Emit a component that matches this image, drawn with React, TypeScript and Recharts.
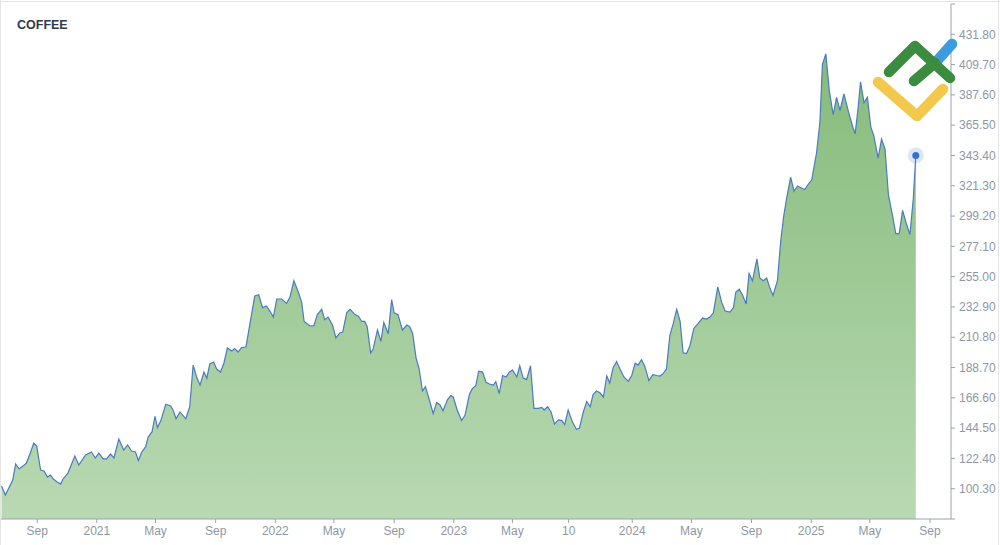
import { AreaChart, Area, XAxis, YAxis, ReferenceDot } from "recharts";

// weekly coffee closes
const dates = [
  "2020-06-20", "2020-06-28", "2020-07-13", "2020-07-19", "2020-07-26", "2020-08-03", "2020-08-10", "2020-08-18", "2020-08-25", "2020-08-31",
  "2020-09-08", "2020-09-15", "2020-09-22", "2020-09-28", "2020-10-04", "2020-10-12", "2020-10-19", "2020-10-24", "2020-11-03", "2020-11-17",
  "2020-11-25", "2020-12-09", "2020-12-21", "2020-12-29", "2021-01-05", "2021-01-14", "2021-01-21", "2021-01-29", "2021-02-05", "2021-02-15",
  "2021-02-25", "2021-03-05", "2021-03-13", "2021-03-21", "2021-03-27", "2021-04-03", "2021-04-11", "2021-04-16", "2021-04-24", "2021-04-30",
  "2021-05-05", "2021-05-12", "2021-05-22", "2021-06-01", "2021-06-06", "2021-06-12", "2021-06-20", "2021-07-02", "2021-07-10", "2021-07-17",
  "2021-07-24", "2021-07-31", "2021-08-08", "2021-08-14", "2021-08-20", "2021-08-28", "2021-09-03", "2021-09-11", "2021-09-18", "2021-09-25",
  "2021-10-04", "2021-10-10", "2021-10-17", "2021-10-24", "2021-11-02", "2021-11-20", "2021-11-28", "2021-12-06", "2021-12-14", "2021-12-21",
  "2021-12-28", "2022-01-04", "2022-01-14", "2022-01-24", "2022-01-31", "2022-02-08", "2022-02-17", "2022-02-24", "2022-03-01", "2022-03-13",
  "2022-03-21", "2022-03-28", "2022-04-06", "2022-04-12", "2022-04-19", "2022-04-28", "2022-05-05", "2022-05-13", "2022-05-19", "2022-05-27",
  "2022-06-03", "2022-06-13", "2022-06-20", "2022-06-27", "2022-07-03", "2022-07-08", "2022-07-15", "2022-07-20", "2022-07-29", "2022-08-05",
  "2022-08-11", "2022-08-20", "2022-08-27", "2022-09-01", "2022-09-09", "2022-09-18", "2022-09-27", "2022-10-03", "2022-10-09", "2022-10-16",
  "2022-10-22", "2022-10-29", "2022-11-04", "2022-11-13", "2022-11-20", "2022-11-27", "2022-12-04", "2022-12-10", "2022-12-19", "2022-12-26",
  "2022-12-31", "2023-01-08", "2023-01-17", "2023-01-24", "2023-02-02", "2023-02-08", "2023-02-15", "2023-02-21", "2023-03-01", "2023-03-08",
  "2023-03-15", "2023-03-23", "2023-03-28", "2023-04-04", "2023-04-11", "2023-04-18", "2023-04-24", "2023-05-01", "2023-05-10", "2023-05-16",
  "2023-05-23", "2023-05-30", "2023-06-07", "2023-06-14", "2023-06-23", "2023-06-30", "2023-07-05", "2023-07-12", "2023-07-19", "2023-07-26",
  "2023-08-03", "2023-08-10", "2023-08-16", "2023-08-23", "2023-09-01", "2023-09-09", "2023-09-15", "2023-09-23", "2023-09-30", "2023-10-07",
  "2023-10-13", "2023-10-20", "2023-10-27", "2023-11-03", "2023-11-10", "2023-11-16", "2023-11-23", "2023-11-30", "2023-12-07", "2023-12-15",
  "2023-12-24", "2023-12-31", "2024-01-07", "2024-01-13", "2024-01-20", "2024-01-27", "2024-02-04", "2024-02-12", "2024-02-20", "2024-02-27",
  "2024-03-04", "2024-03-11", "2024-03-18", "2024-03-25", "2024-04-01", "2024-04-08", "2024-04-14", "2024-04-21", "2024-04-28", "2024-05-06",
  "2024-05-15", "2024-05-24", "2024-06-01", "2024-06-08", "2024-06-15", "2024-06-24", "2024-07-02", "2024-07-09", "2024-07-19", "2024-07-26",
  "2024-07-31", "2024-08-07", "2024-08-14", "2024-08-21", "2024-08-27", "2024-09-03", "2024-09-12", "2024-09-18", "2024-09-25", "2024-10-02",
  "2024-10-09", "2024-10-15", "2024-10-24", "2024-10-31", "2024-11-06", "2024-11-12", "2024-11-20", "2024-11-27", "2024-12-04", "2024-12-11",
  "2024-12-19", "2024-12-26", "2025-01-02", "2025-01-12", "2025-01-19", "2025-01-24", "2025-01-31", "2025-02-07", "2025-02-15", "2025-02-22",
  "2025-03-01", "2025-03-09", "2025-03-18", "2025-03-27", "2025-04-01", "2025-04-07", "2025-04-12", "2025-04-19", "2025-04-26", "2025-05-03",
  "2025-05-09", "2025-05-18", "2025-05-25", "2025-06-01", "2025-06-08", "2025-06-17", "2025-06-23", "2025-06-30", "2025-07-07", "2025-07-14",
  "2025-07-22", "2025-07-29", "2025-08-03",
];

const prices = [
  102.3, 95.7, 106.6, 118.3, 114.7, 116.8, 119.0, 126.3, 133.6, 131.4,
  113.9, 113.2, 108.8, 110.3, 107.4, 105.2, 103.7, 107.4, 111.7, 124.1,
  117.6, 124.9, 127.1, 122.7, 126.3, 122.0, 122.0, 125.6, 122.7, 136.5,
  128.5, 132.2, 127.8, 127.1, 120.9, 127.1, 131.0, 138.0, 141.9, 153.0,
  144.9, 150.0, 161.9, 160.6, 157.7, 151.3, 156.3, 151.3, 160.1, 190.5,
  181.8, 175.9, 185.4, 181.0, 191.3, 192.7, 187.6, 185.4, 192.0, 202.9,
  200.8, 202.5, 200.0, 203.2, 203.7, 240.9, 241.8, 232.4, 233.6, 229.9,
  225.5, 238.7, 238.7, 235.5, 240.1, 252.0, 243.8, 236.2, 222.3, 219.0,
  219.2, 227.3, 231.2, 223.5, 225.5, 219.7, 210.3, 213.9, 214.6, 228.6,
  231.2, 227.3, 226.1, 222.3, 222.3, 218.5, 199.4, 202.0, 216.1, 207.8,
  221.5, 213.4, 238.2, 228.6, 227.3, 216.1, 219.7, 218.5, 213.4, 195.6,
  188.0, 171.6, 174.8, 163.9, 155.1, 163.2, 161.4, 157.1, 165.2, 168.2,
  167.2, 157.7, 150.0, 153.8, 169.0, 173.3, 175.4, 186.0, 185.4, 177.9,
  176.7, 175.9, 178.4, 169.7, 182.9, 181.8, 185.0, 186.9, 181.8, 190.0,
  181.0, 179.9, 190.0, 158.9, 158.9, 159.6, 157.7, 160.1, 156.3, 147.5,
  150.5, 150.0, 147.0, 157.7, 148.7, 143.6, 144.4, 156.3, 163.9, 160.1,
  169.0, 171.6, 170.3, 167.2, 182.5, 177.4, 188.6, 193.1, 187.6, 181.8,
  178.6, 182.9, 191.8, 190.5, 194.4, 189.3, 179.2, 183.5, 182.9, 182.5,
  184.2, 187.6, 212.1, 220.9, 231.2, 222.3, 199.4, 198.9, 204.5, 217.2,
  220.9, 224.8, 224.1, 225.5, 228.6, 247.6, 236.2, 229.9, 229.2, 232.4,
  243.8, 245.8, 241.3, 235.0, 257.3, 252.0, 267.9, 254.0, 252.0, 254.0,
  246.3, 241.3, 252.0, 281.9, 299.6, 312.4, 327.5, 317.3, 321.1, 319.9,
  318.6, 322.4, 325.5, 345.2, 368.0, 409.9, 417.5, 390.9, 373.1, 385.8,
  376.2, 388.4, 375.7, 364.2, 359.2, 378.2, 397.2, 382.0, 385.8, 364.2,
  357.9, 341.4, 355.4, 348.3, 314.8, 298.4, 286.4, 286.4, 303.4, 294.5,
  285.7, 312.4, 343.4,
];

const axisDates = [
  "2020-09-01", "2021-01-01", "2021-05-01", "2021-09-01", "2022-01-01", "2022-05-01", "2022-09-01", "2023-01-01",
  "2023-05-01", "2023-08-24", "2024-01-01", "2024-05-01", "2024-09-01", "2025-01-01", "2025-05-01", "2025-09-01",
];
const axisLabels = [
  "Sep", "2021", "May", "Sep", "2022", "May", "Sep", "2023",
  "May", "10", "2024", "May", "Sep", "2025", "May", "Sep",
];

const priceTicks = [
  78.2, 100.3, 122.4, 144.5, 166.6, 188.7, 210.8, 232.9, 255.0,
  277.1, 299.2, 321.3, 343.4, 365.5, 387.6, 409.7, 431.8, 453.9,
];

const X_START = "2020-06-19";
const X_END = "2025-10-14";

const FONT = '"Liberation Sans", Arial, sans-serif';
const LABEL = "#8e97a7";
const AXIS = "#9ca2ab";

const data = dates.map((d, i) => ({ t: Date.parse(d), price: prices[i] }));
const tickTimes = axisDates.map((d) => Date.parse(d));
const last = data[data.length - 1];

function xLabel(v: number) {
  const i = tickTimes.indexOf(v);
  return i >= 0 ? axisLabels[i] : "";
}

function yLabel(v: number, i: number) {
  if (i === 0 || i === priceTicks.length - 1) return "";
  return v.toFixed(2);
}

function LastDot(props: any) {
  const { cx, cy } = props;
  return (
    <g>
      <circle cx={cx} cy={cy} r={8} fill="#3d72c8" fillOpacity={0.18} />
      <circle cx={cx} cy={cy} r={3.5} fill="#3a6fc6" />
    </g>
  );
}

function Overlay() {
  return (
    <svg
      width={1000}
      height={545}
      style={{ position: "absolute", left: 0, top: 0, pointerEvents: "none" }}
    >
      <line x1={0} y1={1.5} x2={1000} y2={1.5} stroke="#e4e4e4" />
      <line x1={0.5} y1={0} x2={0.5} y2={545} stroke="#e4e4e4" />
      <line x1={998.5} y1={0} x2={998.5} y2={545} stroke="#e4e4e4" />
      <text x={17} y={29} fontFamily={FONT} fontWeight="bold" fontSize={12.5} fill="#2f3b4c">
        COFFEE
      </text>
      <g strokeLinecap="round" strokeLinejoin="round" fill="none" strokeWidth={10.5}>
        <polyline points="878,82 917,116 943,89" stroke="#f2c94c" />
        <line x1={936} y1={62} x2={952} y2={44} stroke="#3f9be0" />
        <polyline points="889,72 915,46 950,78" stroke="#3b8c3f" />
        <line x1={914} y1={81} x2={935} y2={63} stroke="#3b8c3f" />
      </g>
    </svg>
  );
}

export default function App() {
  return (
    <div style={{ position: "relative", width: 1000, height: 545, background: "#fff" }}>
      <style>{`body{margin:0}`}</style>
      <AreaChart
        width={1000}
        height={545}
        data={data}
        margin={{ top: 4, right: 0, bottom: 0, left: 1 }}
      >
        <defs>
          <linearGradient id="coffeeFill" x1="0" y1="0" x2="0" y2="1">
            <stop offset="0%" stopColor="#86bb7b" />
            <stop offset="100%" stopColor="#b9d9b3" />
          </linearGradient>
        </defs>
        <XAxis
          dataKey="t"
          type="number"
          domain={[Date.parse(X_START), Date.parse(X_END)]}
          ticks={tickTimes}
          interval={0}
          tickFormatter={xLabel}
          height={26}
          tickSize={4}
          tickMargin={3}
          stroke={AXIS}
          tick={{ fill: LABEL, fontSize: 12, fontFamily: FONT }}
        />
        <YAxis
          orientation="right"
          width={49}
          domain={[priceTicks[0], priceTicks[priceTicks.length - 1]]}
          ticks={priceTicks}
          interval={0}
          tickFormatter={yLabel}
          tickSize={4}
          tickMargin={4}
          stroke={AXIS}
          tick={{ fill: LABEL, fontSize: 12, fontFamily: FONT }}
        />
        <Area
          type="linear"
          dataKey="price"
          stroke="#4a7bc2"
          strokeWidth={1.2}
          fill="url(#coffeeFill)"
          fillOpacity={1}
          dot={false}
          activeDot={false}
          isAnimationActive={false}
        />
        <ReferenceDot x={last.t} y={last.price} shape={LastDot} />
      </AreaChart>
      <Overlay />
    </div>
  );
}
